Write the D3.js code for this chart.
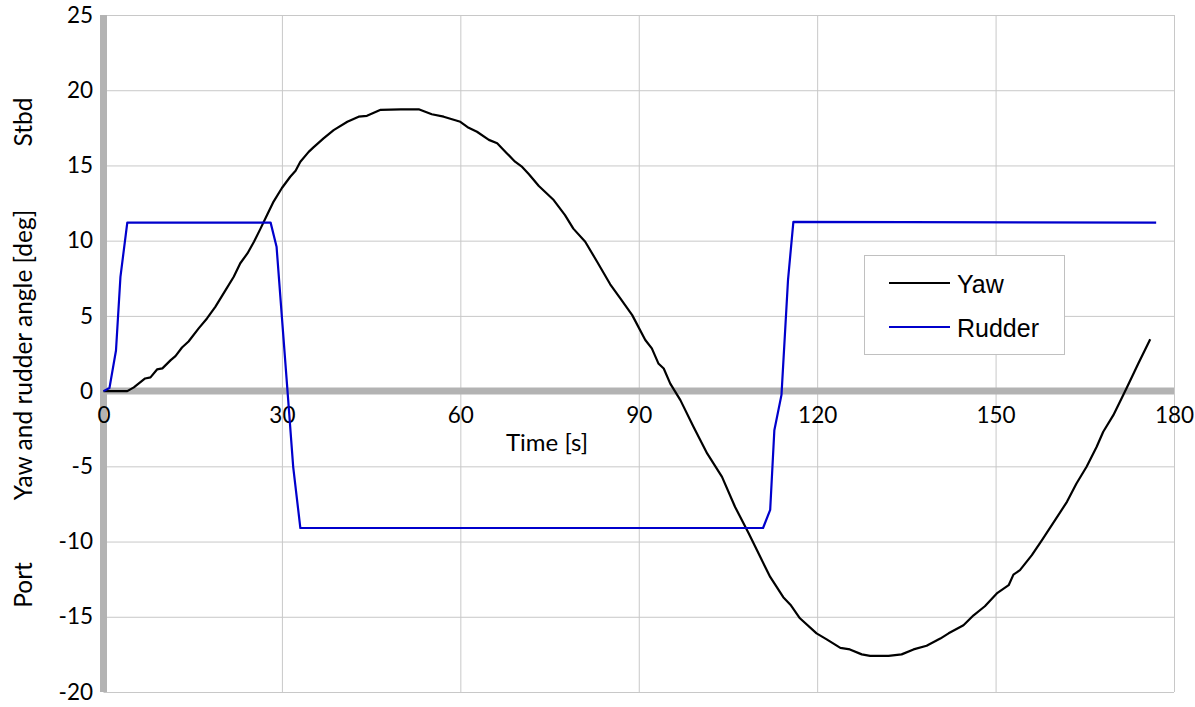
<!DOCTYPE html>
<html>
<head>
<meta charset="utf-8">
<script src="https://cdn.jsdelivr.net/npm/d3@7"></script>
<style>
  body { margin: 0; background: #fff; }
</style>
</head>
<body>
<div id="paper"></div>
<script>
// zig-zag manoeuvre: yaw and rudder angle against time

const yawTime = [0, 4, 5.1, 7, 7.9, 9, 9.9, 11.3, 12.1, 13.2, 14.3, 16, 17.4, 18.8, 20.5, 21.9, 23, 24.2, 25.3, 26.4,
    27.5, 28.6, 30, 31.4, 32.3, 33.1, 34.5, 35.3, 37, 38.7, 41, 42.9, 44.3, 46.6, 50, 53, 55.2, 57.2, 60, 61.4,
    62.8, 64.8, 66.2, 67.6, 69.2, 70.4, 71.5, 73.2, 75.7, 77.6, 79, 81, 83, 85.2, 86.9, 88.9, 91.1, 92.2, 93.3, 94.2,
    95.3, 97, 99.2, 101.5, 104, 106.2, 108.5, 110.4, 112.1, 114.3, 115.5, 117.1, 119.9, 121.6, 123.9, 125.5, 127.5, 128.9, 132, 134.2,
    136.2, 138.4, 140.7, 142.1, 144.6, 146.3, 148.2, 150.2, 152.2, 153, 154.1, 156.1, 157.8, 160, 162, 163.6, 165.3, 167, 168.1, 169.8,
    172, 174, 176]
const yawAngle = [0, 0, 0.25, 0.84, 0.91, 1.44, 1.51, 2.06, 2.33, 2.9, 3.3, 4.17, 4.83, 5.6, 6.7, 7.6, 8.5, 9.15, 9.93, 10.8,
    11.7, 12.6, 13.5, 14.25, 14.65, 15.25, 15.9, 16.2, 16.8, 17.35, 17.9, 18.24, 18.3, 18.7, 18.73, 18.73, 18.4, 18.24, 17.9, 17.5,
    17.24, 16.7, 16.47, 15.9, 15.25, 14.9, 14.43, 13.63, 12.7, 11.7, 10.8, 9.93, 8.6, 7.1, 6.16, 5.05, 3.4, 2.84, 1.84, 1.5,
    0.5, -0.6, -2.37, -4.14, -5.7, -7.7, -9.46, -11.0, -12.35, -13.7, -14.2, -15.1, -16.1, -16.5, -17.07, -17.17, -17.5, -17.6, -17.6, -17.5,
    -17.17, -16.93, -16.45, -16.1, -15.56, -14.9, -14.3, -13.45, -12.9, -12.2, -11.9, -10.9, -9.9, -8.58, -7.36, -6.14, -5.03, -3.7, -2.7, -1.6,
    0.18, 1.84, 3.44]

const rudderTime = [0, 1, 2.1, 2.85, 4, 28.1, 29.1, 30, 31, 31.9, 33.1, 110.9, 112.1, 112.8, 114, 115.1, 116, 177]
const rudderAngle = [0, 0.2, 2.7, 7.6, 11.2, 11.2, 9.6, 4.9, -0.3, -5.05, -9.1, -9.1, -7.9, -2.6, -0.25, 7.4, 11.25, 11.2]

const xTicks = [0, 30, 60, 90, 120, 150, 180]
const yTicks = [-20, -15, -10, -5, 0, 5, 10, 15, 20, 25]
const seriesNames = ['Yaw', 'Rudder']
const seriesColors = ['#000000', '#0000cc']

const yaw = yawTime.map((t, i) => ({t: t, v: yawAngle[i]}))
const rudder = rudderTime.map((t, i) => ({t: t, v: rudderAngle[i]}))

// svg

const svg = d3.select("#paper")
    .append("svg")
    .attr("id", "canvas")
    .attr("width", 1195)
    .attr("height", 707)

const x = d3.scaleLinear().domain([0, 180]).range([103.5, 1174])
const y = d3.scaleLinear().domain([-20, 25]).range([692, 15])

const tickFont = "Lato, 'Open Sans', sans-serif"
// plain hyphen for negatives, like the original
const plain = d => String(d)

// grid

svg.append('g')
    .attr('transform', `translate(${x(0)},0)`)
    .call(d3.axisLeft(y).tickValues(yTicks).tickSize(-(x(180) - x(0))).tickFormat(''))
    .call(g => g.select('.domain').remove())
    .call(g => g.selectAll('line').attr('stroke', '#c8c8c8').attr('stroke-width', 1))

svg.append('g')
    .attr('transform', `translate(0,${y(-20)})`)
    .call(d3.axisBottom(x).tickValues(xTicks.slice(1)).tickSize(-(y(-20) - y(25))).tickFormat(''))
    .call(g => g.select('.domain').remove())
    .call(g => g.selectAll('line').attr('stroke', '#c8c8c8').attr('stroke-width', 1))

// heavy axis lines

svg.append('line')
    .attr('x1', x(0) - 3.5).attr('x2', x(180))
    .attr('y1', y(0)).attr('y2', y(0))
    .attr('stroke', '#b3b3b3').attr('stroke-width', 7)

svg.append('line')
    .attr('x1', x(0)).attr('x2', x(0))
    .attr('y1', y(25)).attr('y2', y(-20))
    .attr('stroke', '#b3b3b3').attr('stroke-width', 7)

// tick labels

svg.append('g')
    .attr('transform', `translate(${x(0)},0)`)
    .call(d3.axisLeft(y).tickValues(yTicks).tickSize(0).tickPadding(10.5).tickFormat(plain))
    .call(g => g.select('.domain').remove())
    .call(g => g.selectAll('text').attr('font-family', tickFont).attr('font-size', '22.5px').attr('fill', '#000'))

svg.append('g')
    .attr('transform', `translate(0,${y(0)})`)
    .call(d3.axisBottom(x).tickValues(xTicks).tickSize(0).tickPadding(16).tickFormat(plain))
    .call(g => g.select('.domain').remove())
    .call(g => g.selectAll('text').attr('font-family', tickFont).attr('font-size', '22.5px').attr('fill', '#000'))

// axis titles

svg.append('text')
    .attr('x', 547).attr('y', 451)
    .attr('text-anchor', 'middle')
    .attr('font-family', tickFont).attr('font-size', '24px')
    .text('Time [s]')

const yTitles = [['Stbd', 122], ['Yaw and rudder angle [deg]', 355], ['Port', 585]]
yTitles.forEach(d => {
    svg.append('text')
        .attr('transform', `translate(22,${d[1]}) rotate(-90)`)
        .attr('text-anchor', 'middle')
        .attr('dominant-baseline', 'central')
        .attr('font-family', tickFont).attr('font-size', '24.5px')
        .text(d[0])
})

// lines

const line = d3.line().x(d => x(d.t)).y(d => y(d.v))

Array(yaw, rudder).forEach((d, i) => {
    svg.append('path')
        .datum(d)
        .attr('d', line)
        .attr('fill', 'none')
        .attr('stroke', seriesColors[i])
        .attr('stroke-width', 2.2)
        .attr('stroke-linejoin', 'round')
})

// legend

const legend = svg.append('g').attr('transform', 'translate(864,255)')

legend.append('rect')
    .attr('x', 0.5).attr('y', 0.5)
    .attr('width', 200).attr('height', 99)
    .attr('fill', '#fff')
    .attr('stroke', '#c0c0c0')

seriesNames.forEach((name, i) => {
    legend.append('line')
        .attr('x1', 25).attr('x2', 86)
        .attr('y1', 28 + i * 44).attr('y2', 28 + i * 44)
        .attr('stroke', seriesColors[i]).attr('stroke-width', 2)
    legend.append('text')
        .attr('x', 93).attr('y', 38 + i * 44)
        .attr('font-family', "'Liberation Sans', Arial, sans-serif")
        .attr('font-size', '25px')
        .text(name)
})
</script>
</body>
</html>
